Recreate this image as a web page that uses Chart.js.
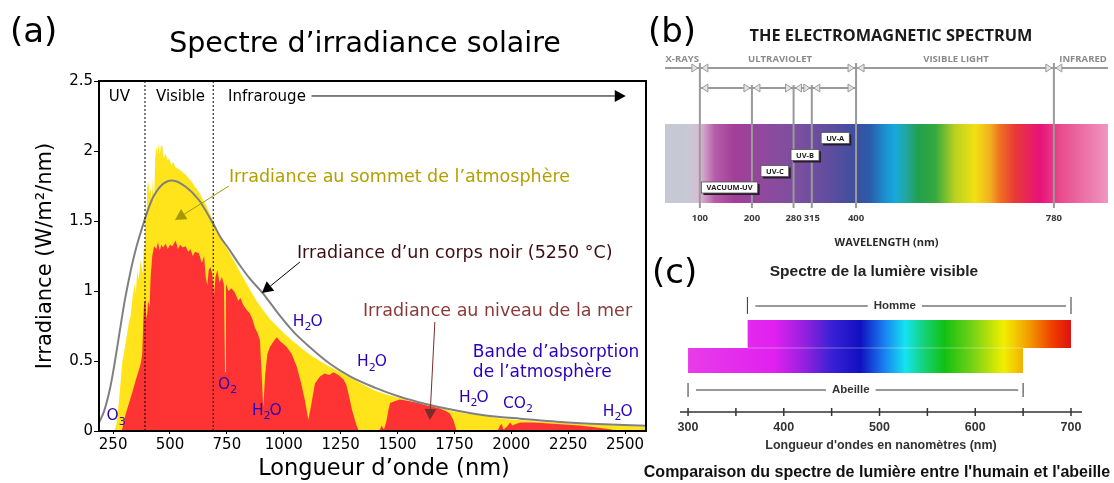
<!DOCTYPE html>
<html>
<head>
<meta charset="utf-8">
<script src="https://cdn.jsdelivr.net/npm/chart.js@4.4.0/dist/chart.umd.min.js"></script>
<style>
  html, body { margin: 0; padding: 0; background: #fff; }
  #wrap { position: relative; width: 1114px; height: 483px; overflow: hidden; }
  canvas { position: absolute; }
  #chartA { left: 0; top: 0; width: 650px; height: 483px; }
  #chartB { left: 640px; top: 0; width: 474px; height: 250px; }
  #chartC { left: 640px; top: 250px; width: 474px; height: 233px; }
</style>
</head>
<body>
<div id="wrap">
  <canvas id="chartA" width="650" height="483"></canvas>
  <canvas id="chartB" width="474" height="250"></canvas>
  <canvas id="chartC" width="474" height="233"></canvas>
</div>
<script>
// ------------------------------------------------------------
// (a) solar irradiance spectrum
// ------------------------------------------------------------
const topNm  = [188,255,265,275,283,290,300,310,320,327,335,345,350,356,362,371,380,386,390,393,397,400,405,410,415,420,425,430,435,440,445,450,455,460,466,472,481,490,496,505,515,525,540,555,569,585,600,613,630,645,657,670,690,710,730,759,790,820,851,880,910,939,970,1000,1042,1080,1120,1159,1200,1250,1305,1350,1400,1450,1510,1560,1620,1680,1730,1800,1870,1950,2000,2100,2200,2300,2400,2500,2592];
const topIrr = [0,0,0.05,0.2,0.35,0.49,0.58,0.68,0.78,0.82,0.95,1.05,0.98,1.15,1.08,1.22,1.12,1.36,1.25,1.72,1.5,1.75,1.78,1.7,1.73,1.66,1.8,1.62,1.95,2.03,1.98,2.05,1.97,2.04,2.04,1.95,1.98,1.93,1.95,1.90,1.92,1.88,1.87,1.85,1.83,1.80,1.77,1.74,1.70,1.65,1.62,1.57,1.50,1.43,1.36,1.28,1.19,1.10,1.01,0.93,0.86,0.80,0.75,0.70,0.64,0.59,0.54,0.50,0.46,0.42,0.37,0.33,0.29,0.26,0.235,0.21,0.195,0.17,0.145,0.125,0.11,0.09,0.082,0.07,0.06,0.05,0.045,0.037,0.03];

const seaNm  = [188,288,295,305,320,335,349,360,371,378,383,386,392,396,400,404,410,415,422,430,440,447,455,462,470,481,490,500,510,525,535,545,555,569,580,590,600,610,627,640,650,657,664,670,678,686,693,700,708,718,728,737,742,746,757,770,785,800,810,822,835,851,862,873,885,895,903,910,918,928,939,955,969,985,1000,1013,1035,1057,1075,1093,1108,1120,1137,1159,1180,1200,1218,1240,1262,1275,1284,1300,1320,1330,1420,1430,1440,1450,1460,1467,1490,1510,1550,1590,1620,1650,1686,1710,1730,1745,1760,1940,1950,1958,1965,1980,1995,2005,2020,2040,2100,2200,2250,2300,2350,2400,2440,2460,2592];
const seaIrr = [0,0,0.05,0.12,0.2,0.28,0.36,0.42,0.48,0.55,0.8,0.91,0.94,0.80,0.84,0.93,0.88,1.1,1.25,1.32,1.30,1.35,1.29,1.33,1.31,1.34,1.30,1.33,1.32,1.36,1.30,1.33,1.31,1.32,1.28,1.30,1.25,1.28,1.27,1.2,1.25,1.1,1.04,1.15,1.17,1.12,0.96,1.10,1.15,1.06,1.10,1.05,0.42,1.05,1.0,1.02,0.99,0.93,0.95,0.90,0.87,0.84,0.80,0.74,0.70,0.65,0.40,0.17,0.40,0.55,0.60,0.64,0.67,0.64,0.62,0.60,0.55,0.46,0.35,0.22,0.08,0.18,0.34,0.39,0.41,0.40,0.42,0.40,0.37,0.33,0.27,0.15,0.04,0,0,0.04,0.01,0.06,0.15,0.2,0.215,0.225,0.215,0.2,0.185,0.175,0.16,0.145,0.125,0.08,0,0,0.04,0.05,0.01,0.03,0.06,0.04,0.05,0.06,0.06,0.05,0.045,0.04,0.03,0.02,0.01,0,0];

// black body curve (5250 °C)
const bbNm  = [188,210,236,250,276,300,324,350,389,420,466,510,569,627,690,720,759,800,850,910,975,1042,1100,1203,1291,1400,1510,1620,1730,1850,1950,2040,2200,2350,2500,2592];
const bbIrr = [0.06,0.14,0.30,0.42,0.68,0.92,1.12,1.30,1.51,1.65,1.76,1.79,1.745,1.65,1.48,1.39,1.30,1.20,1.09,0.98,0.84,0.71,0.62,0.48,0.39,0.31,0.245,0.195,0.155,0.12,0.10,0.088,0.066,0.052,0.042,0.037];

const xTicksA = [250,500,750,1000,1250,1500,1750,2000,2250,2500];
const yTicksA = [0,0.5,1,1.5,2,2.5];
const bandEdgesA = [390, 690];   // UV | Visible | Infrarouge

// ------------------------------------------------------------
// (b) electromagnetic spectrum
// ------------------------------------------------------------
const bSpanNm = [33, 884];
const bTickNm = [100, 200, 280, 315, 400, 780];
const bMainNm = [100, 400, 780];
const bUvNm   = [100, 200, 280, 315, 400];
const bRegionLabels = ['X-RAYS', 'ULTRAVIOLET', 'VISIBLE LIGHT', 'INFRARED'];
const bRegionNm     = [66, 254, 592, 836];
const bUvLabels  = ['VACUUM-UV', 'UV-C', 'UV-B', 'UV-A'];
const bUvLabelNm = [157, 244, 302, 360];
const bSpecNm    = [33, 81, 100, 129, 167, 225, 292, 350, 402, 427, 456, 475, 494, 519, 552, 590, 628, 657, 676, 705, 753, 792, 884];
const bSpecColor = ['#c5c8d3','#c9c8d6','#d9b9d1','#b45ca9','#a23e98','#8f4a9d','#7a4f9f','#5f4d9e','#3b4f9f','#2a5cab','#1b90d0','#18a9dc','#20a7a6','#21a04f','#34a93f','#b9d021','#f1e111','#f2b020','#f07121','#e83a38','#e8117a','#e84b8b','#f196c1'];

// ------------------------------------------------------------
// (c) visible spectrum, human vs bee
// ------------------------------------------------------------
const cHumanNm = [362, 700];
const cBeeNm   = [300, 650];
const cTickNm  = [300, 350, 400, 450, 500, 550, 600, 650, 700];
const cSpecNm    = [300, 390, 420, 450, 480, 505, 527, 548, 568, 600, 630, 655, 680, 700];
const cSpecColor = ['#e83ce8','#e020f0','#9a20e0','#3a20d4','#1010c0','#1a80f0','#14e4f0','#14d070','#12c012','#80d414','#f2ee00','#f2a000','#f04000','#e01010'];

// ------------------------------------------------------------
// helpers
// ------------------------------------------------------------
const pts = (xs, ys) => xs.map((x, i) => ({ x, y: ys[i] }));

function spectrumFill(stops, colors) {
  return (c) => {
    const chart = c.chart;
    if (!chart.chartArea) return 'transparent';
    const sx = chart.scales.x;
    const x0 = sx.getPixelForValue(stops[0]);
    const x1 = sx.getPixelForValue(stops[stops.length - 1]);
    const g = chart.ctx.createLinearGradient(x0, 0, x1, 0);
    stops.forEach((n, i) => g.addColorStop((sx.getPixelForValue(n) - x0) / (x1 - x0), colors[i]));
    return g;
  };
}

function arrow(ctx, x1, y1, x2, y2, color, len, half) {
  const a = Math.atan2(y2 - y1, x2 - x1);
  ctx.strokeStyle = color; ctx.fillStyle = color; ctx.lineWidth = 1;
  ctx.beginPath(); ctx.moveTo(x1, y1);
  ctx.lineTo(x2 - Math.cos(a) * len, y2 - Math.sin(a) * len); ctx.stroke();
  ctx.beginPath();
  ctx.moveTo(x2, y2);
  ctx.lineTo(x2 - Math.cos(a) * len - Math.sin(a) * half, y2 - Math.sin(a) * len + Math.cos(a) * half);
  ctx.lineTo(x2 - Math.cos(a) * len + Math.sin(a) * half, y2 - Math.sin(a) * len - Math.cos(a) * half);
  ctx.closePath(); ctx.fill();
}

// chemical formula with digits as subscripts
function chem(ctx, text, x, y, size) {
  ctx.textAlign = 'left'; ctx.textBaseline = 'middle';
  for (const ch of text) {
    const sub = /\d/.test(ch);
    ctx.font = (sub ? Math.round(size * 0.7) : size) + 'px "DejaVu Sans"';
    ctx.fillText(ch, x, sub ? y + size * 0.35 : y);
    x += ctx.measureText(ch).width + (sub ? -1 : 0);
  }
}

// ------------------------------------------------------------
// (a) annotations (data coordinates)
// ------------------------------------------------------------
const notesA = [
  { text: 'UV',         nm: 278,  v: 2.386, color: '#000',    size: 15, align: 'center' },
  { text: 'Visible',    nm: 546,  v: 2.386, color: '#000',    size: 15, align: 'center' },
  { text: 'Infrarouge', nm: 755,  v: 2.386, color: '#000',    size: 15, align: 'left' },
  { text: 'Irradiance au sommet de l’atmosphère', nm: 759,  v: 1.814, color: '#b3a000', size: 17.5, align: 'left' },
  { text: 'Irradiance d’un corps noir (5250 °C)', nm: 1058, v: 1.271, color: '#3b0f12', size: 17.5, align: 'left' },
  { text: 'Irradiance au niveau de la mer',        nm: 1348, v: 0.857, color: '#8b3a3a', size: 17.5, align: 'left' },
  { text: 'Bande d’absorption', nm: 1831, v: 0.557, color: '#2a00c0', size: 17, align: 'left' },
  { text: 'de l’atmosphère',    nm: 1831, v: 0.414, color: '#2a00c0', size: 17, align: 'left' }
];
const arrowsA = [
  { from: [1122, 2.393], to: [2503, 2.393], color: '#000' },
  { from: [759, 1.75],   to: [522, 1.507],  color: '#a89800' },
  { from: [1071, 1.207], to: [904, 0.986],  color: '#000' },
  { from: [1664, 0.779], to: [1642, 0.079], color: '#7a2c2c' }
];
const chemA = [
  { text: 'O3',  nm: 221,  v: 0.105 },
  { text: 'O2',  nm: 711,  v: 0.33 },
  { text: 'H2O', nm: 860,  v: 0.143 },
  { text: 'H2O', nm: 1040, v: 0.78 },
  { text: 'H2O', nm: 1322, v: 0.49 },
  { text: 'H2O', nm: 1770, v: 0.236 },
  { text: 'CO2', nm: 1963, v: 0.193 },
  { text: 'H2O', nm: 2402, v: 0.136 }
];

const panelA = {
  id: 'panelA',
  afterDatasetsDraw(chart) {
    const { ctx, chartArea: a, scales: { x, y } } = chart;
    const X = v => x.getPixelForValue(v), Y = v => y.getPixelForValue(v);
    ctx.save();
    ctx.strokeStyle = '#000'; ctx.lineWidth = 2;
    ctx.strokeRect(a.left, a.top, a.right - a.left, a.bottom - a.top);

    arrowsA.forEach(r => arrow(ctx, X(r.from[0]), Y(r.from[1]), X(r.to[0]), Y(r.to[1]), r.color, 11, 6));

    notesA.forEach(n => {
      ctx.font = n.size + 'px "DejaVu Sans"';
      ctx.fillStyle = n.color; ctx.textAlign = n.align; ctx.textBaseline = 'middle';
      ctx.fillText(n.text, X(n.nm), Y(n.v));
    });
    ctx.fillStyle = '#2a00b8';
    chemA.forEach(c => chem(ctx, c.text, X(c.nm), Y(c.v), 15.5));
    ctx.restore();
  },
  afterDraw(chart) {
    const { ctx } = chart;
    ctx.save();
    ctx.fillStyle = '#000'; ctx.textBaseline = 'middle';
    ctx.font = '34px "DejaVu Sans"'; ctx.textAlign = 'left';
    ctx.fillText('(a)', 10, 33);
    ctx.font = '28.5px "DejaVu Sans"'; ctx.textAlign = 'center';
    ctx.fillText('Spectre d’irradiance solaire', 365, 45);
    ctx.font = '22.5px "DejaVu Sans"';
    ctx.fillText('Longueur d’onde (nm)', 384, 469);
    ctx.restore();
  }
};

new Chart(document.getElementById('chartA'), {
  type: 'line',
  data: {
    datasets: [
      ...bandEdgesA.map(e => ({
        data: [{ x: e, y: 0 }, { x: e, y: 2.5 }],
        borderColor: '#000', borderWidth: 1, borderDash: [2, 2],
        pointRadius: 0, fill: false, order: -1
      })),
      { label: 'Corps noir', data: pts(bbNm, bbIrr), borderColor: '#808080', borderWidth: 2,
        cubicInterpolationMode: 'monotone', pointRadius: 0, fill: false, order: 0 },
      { label: 'Niveau de la mer', data: pts(seaNm, seaIrr), borderColor: 'transparent', borderWidth: 0,
        backgroundColor: '#fe3434', pointRadius: 0, fill: 'origin', order: 1 },
      { label: 'Sommet de l’atmosphère', data: pts(topNm, topIrr), borderColor: 'transparent', borderWidth: 0,
        backgroundColor: '#ffe41c', pointRadius: 0, fill: 'origin', order: 2 }
    ]
  },
  options: {
    responsive: false, animation: false,
    layout: { padding: { top: 81, right: 4, left: 0, bottom: 0 } },
    plugins: { legend: { display: false }, tooltip: { enabled: false } },
    scales: {
      x: {
        type: 'linear', min: 188, max: 2592,
        afterBuildTicks: s => { s.ticks = xTicksA.map(v => ({ value: v })); },
        afterFit: s => { s.height = 52; },
        grid: { drawOnChartArea: false, tickLength: 3, color: '#000' },
        border: { display: false },
        ticks: { padding: 2, color: '#000', autoSkip: false, maxRotation: 0,
                 font: { family: 'DejaVu Sans', size: 15 }, callback: v => String(v) },
        title: { display: false }
      },
      y: {
        min: 0, max: 2.5,
        afterBuildTicks: s => { s.ticks = yTicksA.map(v => ({ value: v })); },
        afterFit: s => { s.width = 99; },
        grid: { drawOnChartArea: false, tickLength: 5, color: '#000' },
        border: { display: false },
        ticks: { padding: 1, color: '#000', font: { family: 'DejaVu Sans', size: 15 }, callback: v => String(v) },
        title: { display: true, text: 'Irradiance (W/m²/nm)', color: '#000',
                 font: { family: 'DejaVu Sans', size: 21 }, padding: { top: 33, bottom: 0 } }
      }
    }
  },
  plugins: [panelA]
});

// ------------------------------------------------------------
// (b)
// ------------------------------------------------------------
const bUvRows = [2.25, 3.9, 5.5, 7.2];

function tri(ctx, x, y, dir) {
  ctx.beginPath();
  ctx.moveTo(x, y);
  ctx.lineTo(x - dir * 6, y - 4);
  ctx.lineTo(x - dir * 6, y + 4);
  ctx.closePath();
  ctx.fillStyle = '#e4e4e4'; ctx.fill();
  ctx.strokeStyle = '#9a9a9a'; ctx.lineWidth = 1; ctx.stroke();
}

const panelB = {
  id: 'panelB',
  afterDatasetsDraw(chart) {
    const { ctx, chartArea: a, scales: { x, y } } = chart;
    const X = v => x.getPixelForValue(v), Y = v => y.getPixelForValue(v);
    ctx.save();
    ctx.strokeStyle = '#9a9a9a'; ctx.lineWidth = 2;
    // arrow rows
    ctx.beginPath();
    ctx.moveTo(X(bSpanNm[0]), Y(14.2)); ctx.lineTo(X(bSpanNm[1]), Y(14.2));
    ctx.moveTo(X(bUvNm[0]), Y(12.2)); ctx.lineTo(X(bUvNm[bUvNm.length - 1]), Y(12.2));
    // boundaries
    bMainNm.forEach(n => { ctx.moveTo(X(n), Y(14.7)); ctx.lineTo(X(n), Y(0.2)); });
    bUvNm.slice(1, -1).forEach(n => { ctx.moveTo(X(n), Y(12.5)); ctx.lineTo(X(n), Y(0.2)); });
    ctx.stroke();
    bMainNm.forEach(n => { tri(ctx, X(n) - 2, Y(14.2), 1); tri(ctx, X(n) + 2, Y(14.2), -1); });
    bUvNm.forEach((n, i) => {
      if (i > 0) tri(ctx, X(n) - 2, Y(12.2), 1);
      if (i < bUvNm.length - 1) tri(ctx, X(n) + 2, Y(12.2), -1);
    });
    // region names
    ctx.font = 'bold 9.5px "Open Sans"'; ctx.fillStyle = '#8a8a8a';
    ctx.textAlign = 'center'; ctx.textBaseline = 'middle';
    bRegionLabels.forEach((t, i) => ctx.fillText(t, X(bRegionNm[i]), Y(15.1)));
    // UV sub-band boxes
    ctx.font = 'bold 7.5px "Open Sans"';
    bUvLabels.forEach((t, i) => {
      const w = ctx.measureText(t).width + 10, h = 11;
      const cx = X(bUvLabelNm[i]), cy = Y(bUvRows[i]);
      ctx.fillStyle = '#2b1a2e'; ctx.fillRect(cx - w / 2 + 2, cy - h / 2 + 2, w, h);
      ctx.fillStyle = '#fff'; ctx.fillRect(cx - w / 2, cy - h / 2, w, h);
      ctx.strokeStyle = '#555'; ctx.lineWidth = 0.8; ctx.strokeRect(cx - w / 2, cy - h / 2, w, h);
      ctx.fillStyle = '#222'; ctx.fillText(t, cx, cy + 0.5);
    });
    ctx.restore();
  },
  afterDraw(chart) {
    const { ctx } = chart;
    ctx.save();
    ctx.fillStyle = '#000'; ctx.textBaseline = 'middle';
    ctx.font = '34px "DejaVu Sans"'; ctx.textAlign = 'left';
    ctx.fillText('(b)', 8, 33);
    ctx.fillStyle = '#1a1a1a'; ctx.textAlign = 'center';
    ctx.font = 'bold 16.3px "Open Sans"';
    ctx.fillText('THE ELECTROMAGNETIC SPECTRUM', 251, 36);
    ctx.restore();
  }
};

new Chart(document.getElementById('chartB'), {
  type: 'line',
  data: {
    datasets: [{
      label: 'Spectre', data: bSpanNm.map(n => ({ x: n, y: 8.6 })),
      borderColor: 'transparent', borderWidth: 0, pointRadius: 0,
      fill: { value: 0.7 }, backgroundColor: spectrumFill(bSpecNm, bSpecColor)
    }]
  },
  options: {
    responsive: false, animation: false,
    layout: { padding: { top: 50, left: 25, right: 6, bottom: 0 } },
    plugins: { legend: { display: false }, tooltip: { enabled: false } },
    scales: {
      x: {
        type: 'linear', min: bSpanNm[0], max: bSpanNm[1],
        afterBuildTicks: s => { s.ticks = bTickNm.map(v => ({ value: v })); },
        afterFit: s => { s.height = 40; },
        grid: { display: false, drawTicks: false },
        border: { display: false },
        ticks: { padding: 3, color: '#3a3a3a', autoSkip: false, maxRotation: 0,
                 font: { family: 'Open Sans', size: 9.5, weight: 'bold' }, callback: v => String(v) },
        title: { display: true, text: 'WAVELENGTH (nm)', color: '#2a2a2a',
                 font: { family: 'Open Sans', size: 11, weight: 'bold' }, padding: { top: 0, bottom: 1 } }
      },
      y: { display: false, min: 0, max: 16 }
    }
  },
  plugins: [panelB]
});

// ------------------------------------------------------------
// (c)
// ------------------------------------------------------------
const cBrackets = [
  { label: 'Homme',   range: cHumanNm, labelNm: 516, row: 10.6, top: 11.5, bottom: 9.8 },
  { label: 'Abeille', range: cBeeNm,   labelNm: 470, row: 2.2,  top: 2.9,  bottom: 1.5 }
];

const panelC = {
  id: 'panelC',
  afterDatasetsDraw(chart) {
    const { ctx, chartArea: a, scales: { x, y } } = chart;
    const X = v => x.getPixelForValue(v), Y = v => y.getPixelForValue(v);
    ctx.save();
    // faint seam between the two bands
    ctx.strokeStyle = 'rgba(255,255,255,0.35)'; ctx.lineWidth = 1;
    ctx.beginPath(); ctx.moveTo(X(cHumanNm[0]), Y(6.4)); ctx.lineTo(X(cBeeNm[1]), Y(6.4)); ctx.stroke();
    // brackets
    ctx.font = 'bold 11.5px "Liberation Sans"'; ctx.textAlign = 'center'; ctx.textBaseline = 'middle';
    cBrackets.forEach(b => {
      const x0 = X(b.range[0]), x1 = X(b.range[1]), yy = Y(b.row);
      ctx.strokeStyle = '#333'; ctx.lineWidth = 1;
      ctx.beginPath();
      ctx.moveTo(x0, Y(b.top)); ctx.lineTo(x0, Y(b.bottom));
      ctx.moveTo(x1, Y(b.top)); ctx.lineTo(x1, Y(b.bottom));
      ctx.moveTo(x0 + 8, yy); ctx.lineTo(x1 - 5, yy);
      ctx.stroke();
      const w = ctx.measureText(b.label).width + 12;
      ctx.fillStyle = '#fff'; ctx.fillRect(X(b.labelNm) - w / 2, yy - 6, w, 12);
      ctx.fillStyle = '#333'; ctx.fillText(b.label, X(b.labelNm), yy);
    });
    // axis with crossing ticks
    ctx.strokeStyle = '#333'; ctx.lineWidth = 1.5;
    ctx.beginPath();
    ctx.moveTo(a.left, a.bottom); ctx.lineTo(a.right, a.bottom);
    cTickNm.forEach(n => { ctx.moveTo(X(n), a.bottom - 4); ctx.lineTo(X(n), a.bottom + 4); });
    ctx.stroke();
    ctx.restore();
  },
  afterDraw(chart) {
    const { ctx } = chart;
    ctx.save();
    ctx.fillStyle = '#000'; ctx.textBaseline = 'middle';
    ctx.font = '34px "DejaVu Sans"'; ctx.textAlign = 'left';
    ctx.fillText('(c)', 12, 24);
    ctx.textAlign = 'center'; ctx.fillStyle = '#222';
    ctx.font = 'bold 15.5px "Liberation Sans"';
    ctx.fillText('Spectre de la lumière visible', 234, 22);
    ctx.font = 'bold 16px "Liberation Sans"'; ctx.fillStyle = '#111';
    ctx.fillText('Comparaison du spectre de lumière entre l\'humain et l\'abeille', 237, 223);
    ctx.restore();
  }
};

const cFill = spectrumFill(cSpecNm, cSpecColor);

new Chart(document.getElementById('chartC'), {
  type: 'line',
  data: {
    datasets: [
      { label: 'Homme', data: cHumanNm.map(n => ({ x: n, y: 9.2 })),
        borderColor: 'transparent', borderWidth: 0, pointRadius: 0,
        fill: { value: 6.4 }, backgroundColor: cFill },
      { label: 'Abeille', data: cBeeNm.map(n => ({ x: n, y: 6.4 })),
        borderColor: 'transparent', borderWidth: 0, pointRadius: 0,
        fill: { value: 3.9 }, backgroundColor: cFill }
    ]
  },
  options: {
    responsive: false, animation: false,
    layout: { padding: { top: 40, left: 40, right: 32, bottom: 0 } },
    plugins: { legend: { display: false }, tooltip: { enabled: false } },
    scales: {
      x: {
        type: 'linear', min: 291.6, max: 711.5,
        afterBuildTicks: s => { s.ticks = cTickNm.map(v => ({ value: v })); },
        afterFit: s => { s.height = 71; },
        grid: { display: false, drawTicks: false },
        border: { display: false },
        ticks: { padding: 8, color: '#333', autoSkip: false, maxRotation: 0,
                 font: { family: 'Liberation Sans', size: 12.5, weight: 'bold' },
                 callback: v => (v % 100 === 0 ? String(v) : '') },
        title: { display: true, text: 'Longueur d\'ondes en nanomètres (nm)', color: '#333',
                 font: { family: 'Liberation Sans', size: 12.5, weight: 'bold' }, padding: { top: 0, bottom: 30 } }
      },
      y: { display: false, min: 0, max: 12.2 }
    }
  },
  plugins: [panelC]
});
</script>
</body>
</html>
